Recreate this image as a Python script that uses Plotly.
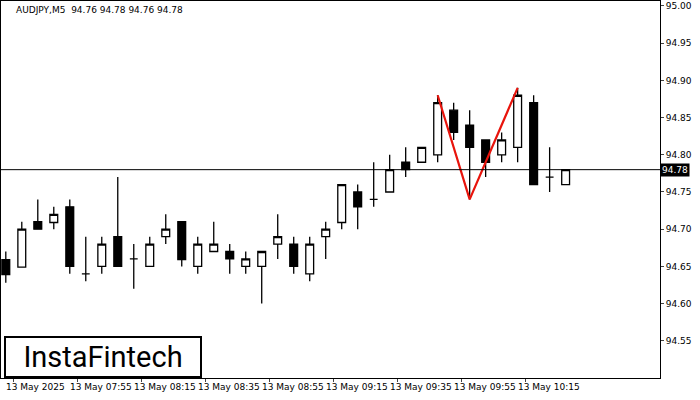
import plotly.graph_objects as go

opens  = [94.659,94.649,94.71,94.709,94.73,94.64,94.65,94.69,94.66,94.65,94.69,94.71,94.65,94.67,94.67,94.65,94.65,94.68,94.68,94.64,94.69,94.709,94.75,94.74,94.75,94.79,94.79,94.80,94.86,94.84,94.82,94.80,94.81,94.87,94.77,94.76]
closes = [94.639,94.70,94.70,94.72,94.65,94.64,94.68,94.65,94.66,94.68,94.70,94.659,94.68,94.68,94.66,94.66,94.67,94.69,94.65,94.68,94.70,94.76,94.73,94.74,94.78,94.78,94.81,94.87,94.83,94.81,94.79,94.82,94.88,94.76,94.77,94.78]
highs  = [94.67,94.71,94.74,94.73,94.74,94.69,94.69,94.77,94.68,94.69,94.72,94.71,94.69,94.71,94.68,94.67,94.67,94.72,94.69,94.69,94.71,94.76,94.76,94.79,94.80,94.81,94.81,94.88,94.87,94.86,94.82,94.83,94.89,94.88,94.81,94.78]
lows   = [94.628,94.649,94.70,94.70,94.64,94.63,94.64,94.65,94.62,94.65,94.68,94.65,94.64,94.67,94.64,94.64,94.60,94.66,94.64,94.63,94.66,94.70,94.70,94.73,94.75,94.77,94.79,94.79,94.82,94.74,94.77,94.79,94.79,94.76,94.75,94.76]
pattern_x = [27, 29, 32]
pattern_y = [94.88, 94.74, 94.89]
tick_idx = [0,4,8,12,16,20,24,28,32]
tick_txt = ["13 May 2025","13 May 07:55","13 May 08:15","13 May 08:35","13 May 08:55","13 May 09:15","13 May 09:35","13 May 09:55","13 May 10:15"]
y_ticks = [94.55,94.60,94.65,94.70,94.75,94.80,94.85,94.90,94.95,95.00]
current = 94.78

x = list(range(len(opens)))
fig = go.Figure()
fig.add_trace(go.Candlestick(x=x, open=opens, high=highs, low=lows, close=closes,
    increasing=dict(fillcolor="white", line=dict(color="black", width=1.3)),
    decreasing=dict(fillcolor="black", line=dict(color="black", width=1.3)),
    whiskerwidth=0, showlegend=False, hoverinfo="skip"))
fig.add_trace(go.Scatter(x=pattern_x, y=pattern_y, mode="lines",
    line=dict(color="#e8140c", width=2.2), showlegend=False, hoverinfo="skip"))
fig.add_hline(y=current, line=dict(color="black", width=1))
fig.add_annotation(x=1, xref="paper", y=current, yref="y", text="94.78", showarrow=False,
    xanchor="left", bgcolor="black", font=dict(color="white", size=9, family="DejaVu Sans"), borderpad=1)
for ti, tt in zip(tick_idx, tick_txt):
    fig.add_annotation(x=ti - 0.1, xref="x", y=0, yref="paper", yshift=-2, text=tt, showarrow=False,
        xanchor="left", yanchor="top", font=dict(size=9, color="black", family="DejaVu Sans"))
fig.add_annotation(x=0.02, xref="paper", y=0.995, yref="paper", text="AUDJPY,M5  94.76 94.78 94.76 94.78",
    showarrow=False, xanchor="left", yanchor="top", font=dict(size=9, color="black", family="DejaVu Sans"))
fig.add_annotation(x=0.004, xref="paper", y=0.0, yref="paper", text="InstaFintech",
    showarrow=False, xanchor="left", yanchor="bottom", font=dict(size=29, color="black", family="Roboto"),
    bordercolor="black", borderwidth=2, bgcolor="white", borderpad=2, width=190)
fig.update_layout(width=700, height=400, margin=dict(l=1, r=40, t=1, b=22, autoexpand=False),
    plot_bgcolor="white", paper_bgcolor="white",
    xaxis=dict(range=[-0.3, 40.9], tickvals=[t + 0.5 for t in tick_idx], showticklabels=False, showgrid=False,
               rangeslider=dict(visible=False), showline=True, mirror=True, linecolor="black",
               ticks="outside", ticklen=3),
    yaxis=dict(range=[94.5, 95.0067], side="right", tickvals=y_ticks, tickformat=".2f", showgrid=False,
               showline=True, mirror=True, linecolor="black", ticks="outside", ticklen=3,
               tickfont=dict(size=9, family="DejaVu Sans", color="black")))
fig.write_html("out.html", config={"displayModeBar": False},
               post_script="document.body.style.margin='0';document.body.style.overflow='hidden';")
